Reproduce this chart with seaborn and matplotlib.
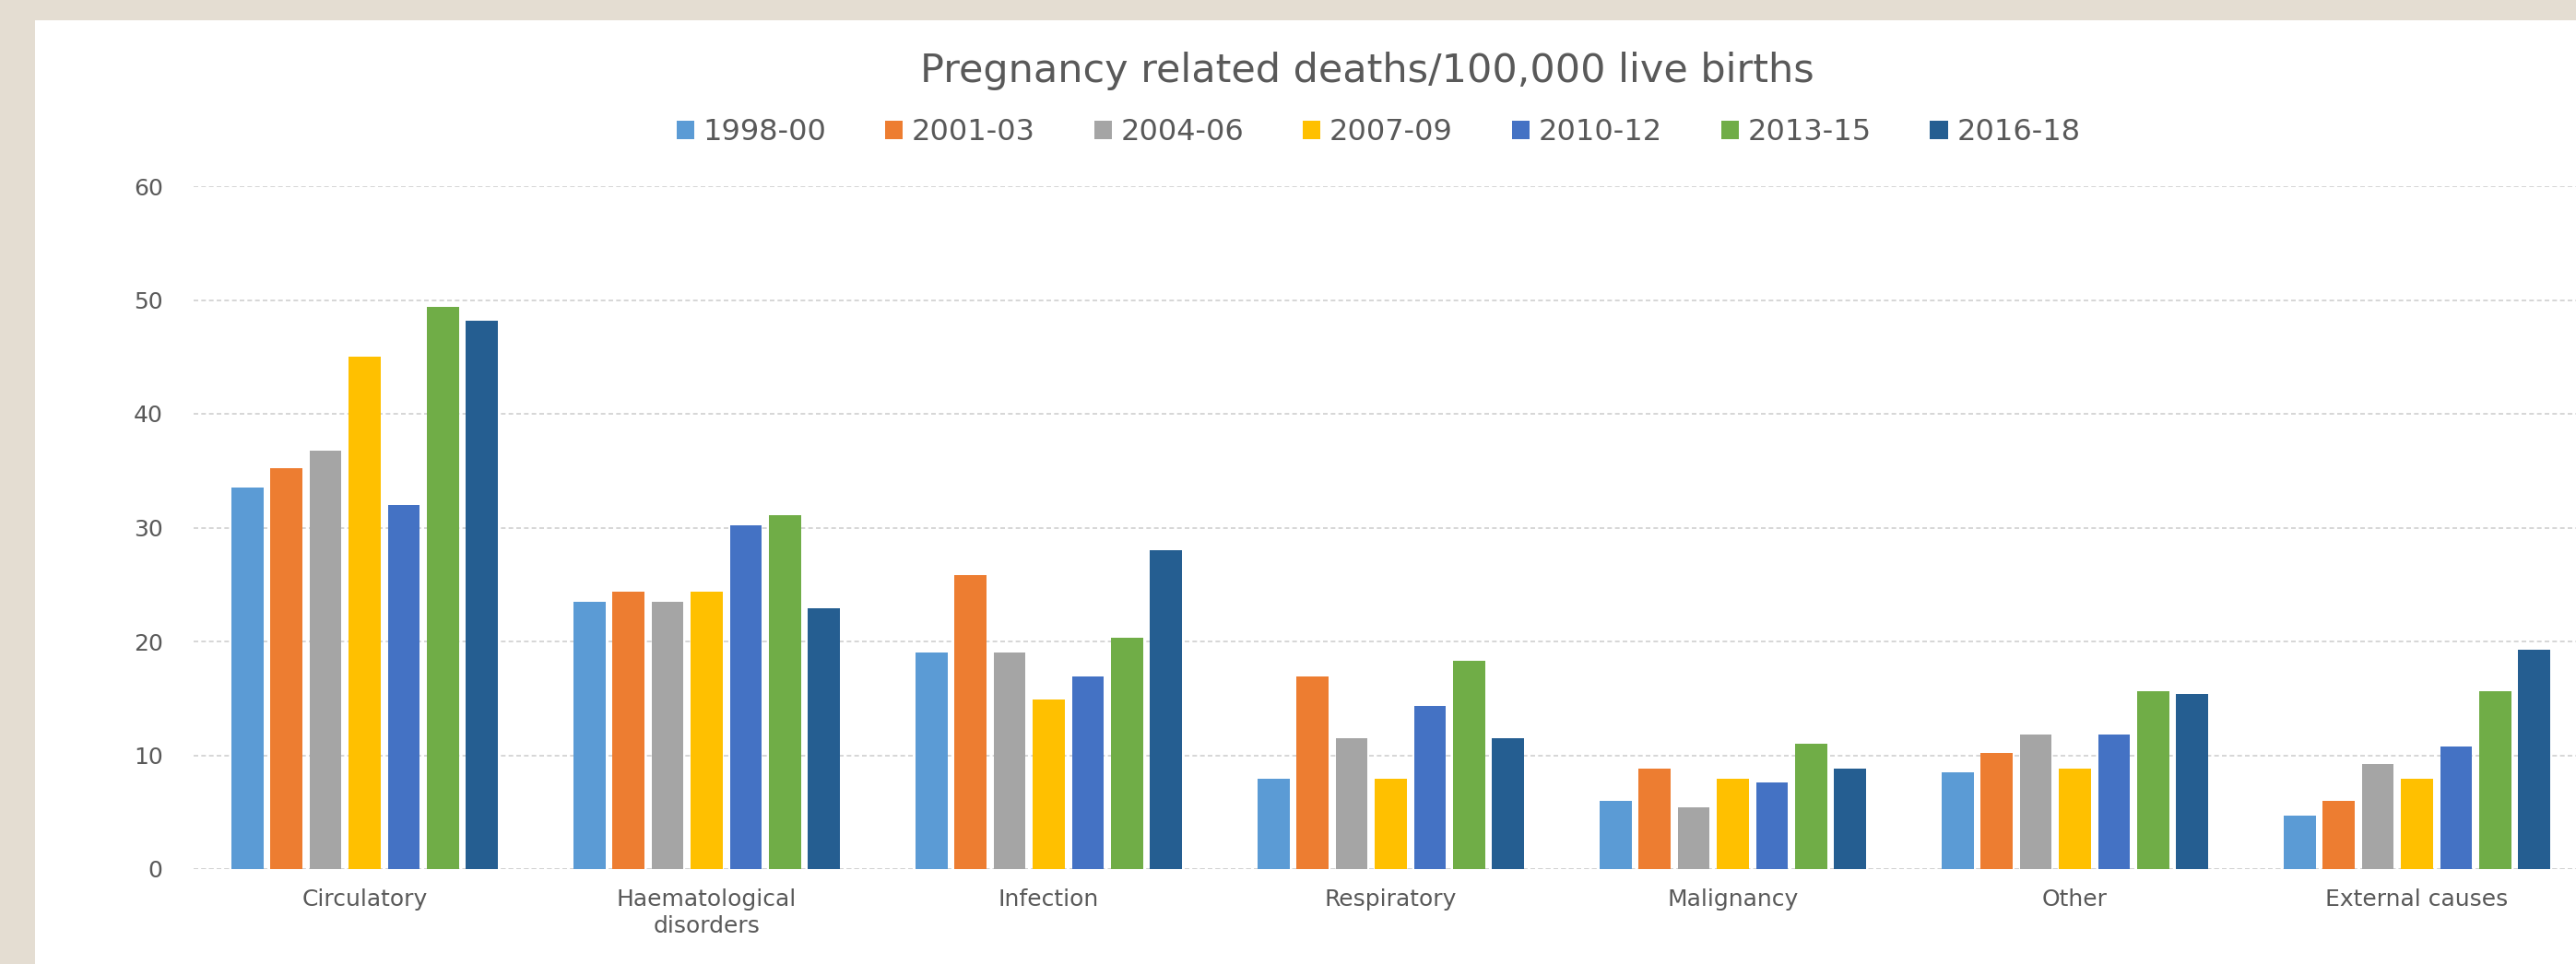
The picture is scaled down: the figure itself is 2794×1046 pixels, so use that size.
import matplotlib
matplotlib.use("Agg")
import matplotlib.pyplot as plt
from matplotlib.patches import Rectangle
import seaborn as sns
import pandas as pd

causes = ["Circulatory", "Haematological\ndisorders", "Infection", "Respiratory",
          "Malignancy", "Other", "External causes"]
periods = ["1998-00", "2001-03", "2004-06", "2007-09", "2010-12", "2013-15", "2016-18"]

# rates per cause, one list per period
r_1998_00 = [33.5, 23.5, 19.0, 7.9, 6.0, 8.5, 4.7]
r_2001_03 = [35.2, 24.4, 25.8, 16.9, 8.8, 10.2, 6.0]
r_2004_06 = [36.8, 23.5, 19.0, 11.5, 5.4, 11.8, 9.2]
r_2007_09 = [45.0, 24.4, 14.9, 7.9, 7.9, 8.8, 7.9]
r_2010_12 = [32.0, 30.2, 16.9, 14.3, 7.6, 11.8, 10.8]
r_2013_15 = [49.4, 31.1, 20.3, 18.3, 11.0, 15.6, 15.6]
r_2016_18 = [48.2, 22.9, 28.0, 11.5, 8.8, 15.4, 19.3]

series = [r_1998_00, r_2001_03, r_2004_06, r_2007_09, r_2010_12, r_2013_15, r_2016_18]
colors = ["#5B9BD5", "#ED7D31", "#A5A5A5", "#FFC000", "#4472C4", "#70AD47", "#255E91"]

rows = []
for period, vals in zip(periods, series):
    for cause, v in zip(causes, vals):
        rows.append({"cause": cause, "period": period, "rate": v})
df = pd.DataFrame(rows)

sns.set_style("white")
plt.rcParams["font.family"] = ["DejaVu Sans"]
text_grey = "#595959"

W, H = 2794, 1046
fig = plt.figure(figsize=(W / 100, H / 100), dpi=100, facecolor="#E4DDD2")
fig.patches.append(Rectangle((38 / W, 0), 1, (H - 22) / H, transform=fig.transFigure,
                             facecolor="white", edgecolor="none", zorder=-5))

ax = fig.add_axes([210 / W, (H - 943) / H, 2597 / W, (943 - 202) / H])
ax.set_facecolor("none")

sns.barplot(data=df, x="cause", y="rate", hue="period", palette=colors, saturation=1,
            width=0.8, gap=0.18, linewidth=0, ax=ax, zorder=3)

ax.set_xlim(-0.5, 6.5)
ax.set_ylim(0, 60)
ax.set_yticks(range(0, 61, 10))
ax.yaxis.grid(True, color="#D0D0D0", linestyle=(0, (3, 2)), linewidth=1.2, zorder=0)
ax.set_axisbelow(True)
for s in ax.spines.values():
    s.set_visible(False)
ax.axhline(0, color="#D0D0D0", linestyle=(0, (3, 2)), linewidth=1.2, zorder=1)
ax.set_xlabel("")
ax.set_ylabel("")
ax.tick_params(axis="y", length=0, pad=24, labelsize=18, labelcolor=text_grey)
ax.tick_params(axis="x", length=0, pad=15, labelsize=18, labelcolor=text_grey)
for t in ax.get_xticklabels():
    t.set_linespacing(1.25)

handles, labels = ax.get_legend_handles_labels()
ax.get_legend().remove()
fig.legend(handles, labels, loc="center", bbox_to_anchor=(1495 / W, 1 - 144 / H), ncol=7,
           frameon=False, fontsize=23, labelcolor=text_grey, handlelength=0.6,
           handleheight=0.6, handletextpad=0.3, columnspacing=2.0)

fig.text(1483 / W, 1 - 77 / H, "Pregnancy related deaths/100,000 live births",
         ha="center", va="center", fontsize=31, color=text_grey)

fig.savefig("out.png", dpi=100, facecolor=fig.get_facecolor())
